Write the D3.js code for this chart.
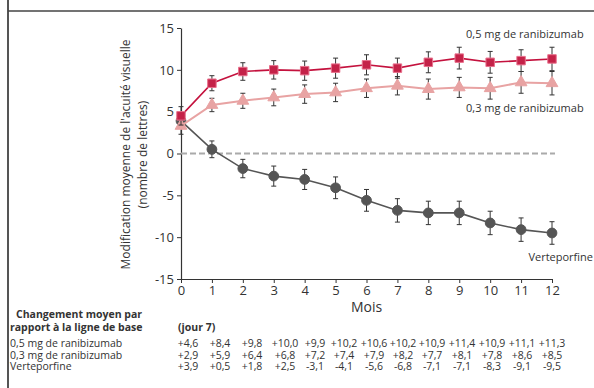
<!DOCTYPE html>
<html>
<head>
<meta charset="utf-8">
<script src="https://cdn.jsdelivr.net/npm/d3@7"></script>
<style>
	html, body { margin: 0; padding: 0; background: #fff; }
	svg text { font-family: 'Open Sans', 'Noto Sans', sans-serif; fill: #333; }
</style>
</head>
<body>
<div id="chart"></div>
<script>
// Data
const months = [0, 1, 2, 3, 4, 5, 6, 7, 8, 9, 10, 11, 12];
const rani05 = [4.5, 8.4, 9.8, 10.0, 9.9, 10.2, 10.6, 10.2, 10.9, 11.4, 10.9, 11.1, 11.3];
const rani05Err = [1.1, 0.9, 1.05, 1.1, 1.15, 1.2, 1.2, 1.2, 1.25, 1.3, 1.3, 1.3, 1.4];
const rani03 = [3.3, 5.8, 6.3, 6.7, 7.1, 7.3, 7.8, 8.1, 7.7, 7.9, 7.8, 8.5, 8.4];
const rani03Err = [1.0, 0.8, 0.9, 1.0, 1.1, 1.1, 1.1, 1.1, 1.2, 1.2, 1.3, 1.3, 1.4];
const verte = [3.9, 0.5, -1.8, -2.7, -3.1, -4.1, -5.6, -6.8, -7.1, -7.1, -8.3, -9.1, -9.5];
const verteErr = [0.9, 1.0, 1.1, 1.2, 1.2, 1.3, 1.3, 1.4, 1.4, 1.4, 1.4, 1.4, 1.35];
const yTicks = [-15, -10, -5, 0, 5, 10, 15];

// Table
const rowLabels = ['0,5 mg de ranibizumab', '0,3 mg de ranibizumab', 'Verteporfine'];
const row05 = ['+4,6', '+8,4', '+9,8', '+10,0', '+9,9', '+10,2', '+10,6', '+10,2', '+10,9', '+11,4', '+10,9', '+11,1', '+11,3'];
const row03 = ['+2,9', '+5,9', '+6,4', '+6,8', '+7,2', '+7,4', '+7,9', '+8,2', '+7,7', '+8,1', '+7,8', '+8,6', '+8,5'];
const rowVe = ['+3,9', '+0,5', '+1,8', '+2,5', '-3,1', '-4,1', '-5,6', '-6,8', '-7,1', '-7,1', '-8,3', '-9,1', '-9,5'];

const W = 594, H = 388;
const tableCols = [188, 220, 252, 285, 315, 344, 374, 403, 432, 462, 492, 522, 552];

const svg = d3.select('#chart').append('svg').attr('width', W).attr('height', H);

// Frame
svg.append('line').attr('x1', 8).attr('x2', 8).attr('y1', 0).attr('y2', H)
	.attr('stroke', '#555').attr('stroke-width', 2);
svg.append('line').attr('x1', 8).attr('x2', W).attr('y1', 11).attr('y2', 11)
	.attr('stroke', '#444').attr('stroke-width', 1.5);

// Scales
const x = d3.scaleLinear().domain([0, 12]).range([181, 552]);
const y = d3.scaleLinear().domain([-15, 15]).range([279, 28]);

// Axes
const yAxis = d3.axisLeft(y).tickValues(yTicks).tickSize(4).tickSizeOuter(0).tickPadding(3)
	.tickFormat(d => String(d));
const xAxis = d3.axisBottom(x).tickValues(months).tickSize(4).tickSizeOuter(0).tickPadding(3)
	.tickFormat(d => String(d));

const ga = svg.append('g').attr('transform', 'translate(181,0)').call(yAxis);
const gx = svg.append('g').attr('transform', 'translate(0,279)').call(xAxis);
[ga, gx].forEach(g => {
	g.select('.domain').attr('stroke', '#333').attr('stroke-width', 1.2);
	g.selectAll('.tick line').attr('stroke', '#333');
	g.selectAll('.tick text').style('font-size', '13px').attr('fill', '#333');
});

// Axis titles
svg.append('text')
	.attr('transform', 'translate(130,' + (y(0) + 1) + ') rotate(-90)')
	.attr('text-anchor', 'middle')
	.style('font-size', '12px')
	.text("Modification moyenne de l'acuité visuelle");
svg.append('text')
	.attr('transform', 'translate(147,' + (y(0) + 1) + ') rotate(-90)')
	.attr('text-anchor', 'middle')
	.style('font-size', '12px')
	.text('(nombre de lettres)');
svg.append('text')
	.attr('x', x(6)).attr('y', 312)
	.attr('text-anchor', 'middle')
	.style('font-size', '14px')
	.text('Mois');

// Zero line
svg.append('line')
	.attr('x1', x(0)).attr('x2', x(12) + 3)
	.attr('y1', y(0)).attr('y2', y(0))
	.attr('stroke', '#aaa').attr('stroke-width', 2).attr('stroke-dasharray', '6,3');

const series = [
	{ name: 'verte', vals: verte, err: verteErr, line: '#555', fill: '#555', stroke: '#555', shape: 'circle' },
	{ name: 'r03', vals: rani03, err: rani03Err, line: '#e8a3a3', fill: '#e8a3a3', stroke: '#e8a3a3', shape: 'triangle' },
	{ name: 'r05', vals: rani05, err: rani05Err, line: '#c4123e', fill: '#c42248', stroke: '#e8708c', shape: 'square' }
];

const line = d3.line().x((d, i) => x(months[i])).y(d => y(d));

series.forEach(s => {
	const g = svg.append('g').attr('class', 'series-' + s.name);
	// error bars
	const eb = g.selectAll('g.err').data(s.vals).enter().append('g').attr('class', 'err');
	eb.append('line')
		.attr('x1', (d, i) => x(months[i])).attr('x2', (d, i) => x(months[i]))
		.attr('y1', (d, i) => y(d + s.err[i])).attr('y2', (d, i) => y(d - s.err[i]))
		.attr('stroke', '#333').attr('stroke-width', 1);
	[1, -1].forEach(sign => {
		eb.append('line')
			.attr('x1', (d, i) => x(months[i]) - 2.5).attr('x2', (d, i) => x(months[i]) + 2.5)
			.attr('y1', (d, i) => y(d + sign * s.err[i])).attr('y2', (d, i) => y(d + sign * s.err[i]))
			.attr('stroke', '#333').attr('stroke-width', 1);
	});
	g.append('path').datum(s.vals).attr('d', line)
		.attr('fill', 'none').attr('stroke', s.line).attr('stroke-width', s.shape === 'triangle' ? 2 : 1.6);
	const sym = s.shape === 'circle' ? d3.symbolCircle : s.shape === 'triangle' ? d3.symbolTriangle : d3.symbolSquare;
	const size = s.shape === 'circle' ? 75 : s.shape === 'triangle' ? 60 : 72;
	g.selectAll('path.pt').data(s.vals).enter().append('path').attr('class', 'pt')
		.attr('d', d3.symbol().type(sym).size(size))
		.attr('transform', (d, i) => 'translate(' + x(months[i]) + ',' + y(d) + ')')
		.attr('fill', s.fill).attr('stroke', s.stroke).attr('stroke-width', 1);
});

// Series labels
svg.append('text').attr('x', 466).attr('y', 38).style('font-size', '11px').text('0,5 mg de ranibizumab');
svg.append('text').attr('x', 466).attr('y', 112).style('font-size', '11px').text('0,3 mg de ranibizumab');
svg.append('text').attr('x', 593).attr('y', 261).attr('text-anchor', 'end').style('font-size', '11px').text('Verteporfine');

// Table
svg.append('text').attr('x', 16).attr('y', 318).style('font-size', '10.5px').style('font-weight', 'bold')
	.text('Changement moyen par');
svg.append('text').attr('x', 10).attr('y', 331).style('font-size', '10.5px').style('font-weight', 'bold')
	.text('rapport à la ligne de base');
svg.append('text').attr('x', 178).attr('y', 331).style('font-size', '10.5px').style('font-weight', 'bold')
	.text('(jour 7)');

const rows = [row05, row03, rowVe];
rows.forEach((r, ri) => {
	const ty = 347 + ri * 11.5;
	svg.append('text').attr('x', 10).attr('y', ty).style('font-size', '10.5px').text(rowLabels[ri]);
	svg.selectAll('text.cell-' + ri).data(r).enter().append('text').attr('class', 'cell-' + ri)
		.attr('x', (d, i) => tableCols[i]).attr('y', ty)
		.attr('text-anchor', 'middle')
		.style('font-size', '10.5px')
		.text(d => d);
});
</script>
</body>
</html>
